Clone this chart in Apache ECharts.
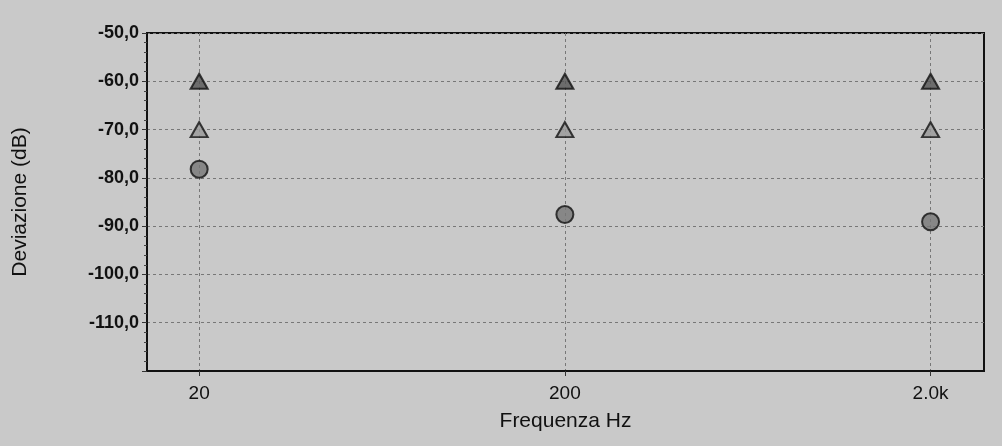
<!DOCTYPE html>
<html><head><meta charset="utf-8">
<script src="https://cdn.jsdelivr.net/npm/echarts@6/dist/echarts.min.js"></script>
<style>html,body{margin:0;padding:0;background:#c9c9c9;}#c{width:1002px;height:446px;}</style>
</head><body><div id="c"></div>
<script>
const frequencies = [20, 200, 2000];
const xTickValues = [20, 200, 2000];
const xTickLabels = ['20', '200', '2.0k'];
const seriesDarkTri = [-60, -60, -60];
const seriesLightTri = [-70, -70, -70];
const seriesCircle = [-78.2, -87.6, -89.1];
const yTickLabelsHidden = [-120];

const chart = echarts.init(document.getElementById('c'));
const pts = arr => frequencies.map((f, i) => [f, arr[i]]);
const font = 'Liberation Sans, Arial, sans-serif';
chart.setOption({
  backgroundColor: '#c9c9c9',
  animation: false,
  grid: {left: 147, right: 18, top: 33, bottom: 75, show: true, borderColor: '#111', borderWidth: 2, backgroundColor: '#c9c9c9'},
  xAxis: {
    type: 'log', logBase: 10, min: 14.4, max: 2800,
    name: 'Frequenza Hz', nameLocation: 'middle', nameGap: 40,
    nameTextStyle: {fontFamily: font, fontSize: 21, color: '#111'},
    axisLine: {show: true, lineStyle: {color: '#111', width: 2}},
    axisTick: {show: true, customValues: xTickValues, length: 5, lineStyle: {color: '#333'}},
    axisLabel: {customValues: xTickValues, fontFamily: font, fontSize: 19, color: '#111', margin: 13,
      formatter: v => { const i = xTickValues.indexOf(Math.round(v)); return i >= 0 ? xTickLabels[i] : ''; }},
    splitLine: {show: true, lineStyle: {color: '#777', type: [3, 3], width: 1}},
    minorTick: {show: false}
  },
  yAxis: {
    type: 'value', min: -120, max: -50, interval: 10,
    name: 'Deviazione (dB)', nameLocation: 'middle', nameGap: 116, nameRotate: 90,
    nameTextStyle: {fontFamily: font, fontSize: 21, color: '#111'},
    axisLine: {show: true, lineStyle: {color: '#111', width: 2}},
    axisTick: {show: true, length: 5, lineStyle: {color: '#333'}},
    minorTick: {show: true, splitNumber: 5, length: 3, lineStyle: {color: '#444'}},
    axisLabel: {fontFamily: font, fontSize: 18, fontWeight: 'bold', color: '#111', margin: 8,
      formatter: v => yTickLabelsHidden.includes(v) ? '' : v.toFixed(1).replace('.', ',')},
    splitLine: {show: true, lineStyle: {color: '#777', type: [3, 3], width: 1}}
  },
  series: [
    {type: 'scatter', data: pts(seriesDarkTri), symbol: 'triangle', symbolSize: [17, 15],
      itemStyle: {color: '#555', borderColor: '#111', borderWidth: 2}, z: 3},
    {type: 'scatter', data: pts(seriesLightTri), symbol: 'triangle', symbolSize: [17, 15],
      itemStyle: {color: '#999', borderColor: '#111', borderWidth: 2}, z: 3},
    {type: 'scatter', data: pts(seriesCircle), symbol: 'circle', symbolSize: 17,
      itemStyle: {color: '#777', borderColor: '#111', borderWidth: 2}, z: 3}
  ]
});
</script></body></html>
